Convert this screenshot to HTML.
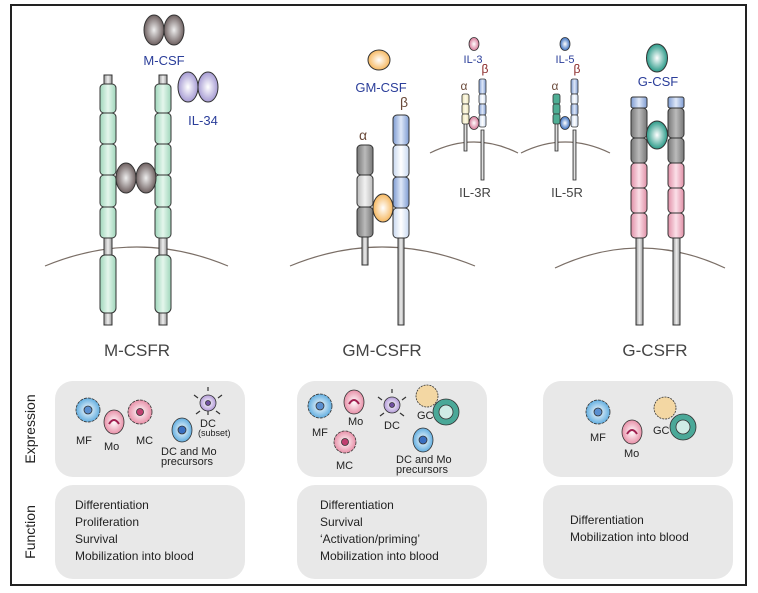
<!DOCTYPE html>
<html><head><meta charset="utf-8"><style>
body{margin:0;background:#fff}
svg{display:block}
text{font-family:"Liberation Sans",sans-serif}
</style></head><body>
<svg width="758" height="593" viewBox="0 0 758 593">
<defs>
<linearGradient id="gr" x1="0" x2="1"><stop offset="0" stop-color="#9fd6bb"/><stop offset=".5" stop-color="#e4f6ec"/><stop offset="1" stop-color="#9fd6bb"/></linearGradient>
<linearGradient id="gy" x1="0" x2="1"><stop offset="0" stop-color="#777"/><stop offset=".5" stop-color="#bbb"/><stop offset="1" stop-color="#777"/></linearGradient>
<linearGradient id="lg" x1="0" x2="1"><stop offset="0" stop-color="#bbb"/><stop offset=".5" stop-color="#f2f2f2"/><stop offset="1" stop-color="#bbb"/></linearGradient>
<linearGradient id="bl" x1="0" x2="1"><stop offset="0" stop-color="#7d9bd2"/><stop offset=".5" stop-color="#dfe8f8"/><stop offset="1" stop-color="#7d9bd2"/></linearGradient>
<linearGradient id="wb" x1="0" x2="1"><stop offset="0" stop-color="#c8d8f0"/><stop offset=".5" stop-color="#fff"/><stop offset="1" stop-color="#c8d8f0"/></linearGradient>
<linearGradient id="pk" x1="0" x2="1"><stop offset="0" stop-color="#e08ea6"/><stop offset=".5" stop-color="#fbe0e8"/><stop offset="1" stop-color="#e08ea6"/></linearGradient>
<linearGradient id="yl" x1="0" x2="1"><stop offset="0" stop-color="#e8e3b8"/><stop offset=".5" stop-color="#fffbe8"/><stop offset="1" stop-color="#e8e3b8"/></linearGradient>
<linearGradient id="st" x1="0" x2="1"><stop offset="0" stop-color="#999"/><stop offset=".5" stop-color="#eee"/><stop offset="1" stop-color="#999"/></linearGradient>
<radialGradient id="rb"><stop offset="0" stop-color="#eee"/><stop offset="1" stop-color="#6e6060"/></radialGradient>
<radialGradient id="rv"><stop offset="0" stop-color="#fff"/><stop offset="1" stop-color="#a69bd3"/></radialGradient>
<radialGradient id="ro"><stop offset="0" stop-color="#fff"/><stop offset="1" stop-color="#f6b860"/></radialGradient>
<radialGradient id="rt"><stop offset="0" stop-color="#fff"/><stop offset="1" stop-color="#2a9a88"/></radialGradient>
<radialGradient id="rp"><stop offset="0" stop-color="#fff"/><stop offset="1" stop-color="#d67898"/></radialGradient>
<radialGradient id="rB"><stop offset="0" stop-color="#fff"/><stop offset="1" stop-color="#3a6fc0"/></radialGradient>
<radialGradient id="cb"><stop offset="0" stop-color="#fff"/><stop offset="1" stop-color="#62aee0"/></radialGradient>
<radialGradient id="cp"><stop offset="0" stop-color="#fff"/><stop offset="1" stop-color="#e890a8"/></radialGradient>
<radialGradient id="cv"><stop offset="0" stop-color="#fff"/><stop offset="1" stop-color="#b39bd8"/></radialGradient>
</defs>
<rect x="11" y="5" width="735" height="580" fill="none" stroke="#222" stroke-width="2"/>

<!-- membranes -->
<g fill="none" stroke="#7a6e66" stroke-width="1.2">
<path d="M45 266 Q137 228 228 266"/>
<path d="M290 266 Q382 228 475 266"/>
<path d="M430 153 Q474 131 518 153"/>
<path d="M521 153 Q565 131 610 153"/>
<path d="M555 268 Q640 228 725 268"/>
</g>

<!-- M-CSFR -->
<g stroke="#333" stroke-width="1">
<rect x="104" y="75" width="8" height="250" fill="url(#st)"/>
<rect x="159" y="75" width="8" height="250" fill="url(#st)"/>
<g fill="url(#gr)">
<rect x="100" y="84" width="16" height="29" rx="4"/><rect x="100" y="113" width="16" height="31" rx="4"/><rect x="100" y="144" width="16" height="31" rx="4"/><rect x="100" y="175" width="16" height="32" rx="4"/><rect x="100" y="207" width="16" height="31" rx="4"/><rect x="100" y="255" width="16" height="58" rx="5"/>
<rect x="155" y="84" width="16" height="29" rx="4"/><rect x="155" y="113" width="16" height="31" rx="4"/><rect x="155" y="144" width="16" height="31" rx="4"/><rect x="155" y="175" width="16" height="32" rx="4"/><rect x="155" y="207" width="16" height="31" rx="4"/><rect x="155" y="255" width="16" height="58" rx="5"/>
</g>
<g fill="url(#rb)"><ellipse cx="154" cy="30" rx="10" ry="15"/><ellipse cx="174" cy="30" rx="10" ry="15"/><ellipse cx="126" cy="178" rx="10" ry="15"/><ellipse cx="146" cy="178" rx="10" ry="15"/></g>
<g fill="url(#rv)"><ellipse cx="188" cy="87" rx="10" ry="15"/><ellipse cx="208" cy="87" rx="10" ry="15"/></g>
</g>
<text x="164" y="65" font-size="13" fill="#2b3e9a" text-anchor="middle">M-CSF</text>
<text x="203" y="125" font-size="13" fill="#2b3e9a" text-anchor="middle">IL-34</text>
<text x="137" y="356" font-size="17" fill="#444" text-anchor="middle">M-CSFR</text>

<!-- GM-CSFR -->
<g stroke="#333" stroke-width="1">
<rect x="362" y="230" width="6" height="35" fill="url(#st)"/>
<rect x="398" y="230" width="6" height="95" fill="url(#st)"/>
<rect x="357" y="145" width="16" height="30" rx="4" fill="url(#gy)"/>
<rect x="357" y="175" width="16" height="32" rx="4" fill="url(#lg)"/>
<rect x="357" y="207" width="16" height="30" rx="4" fill="url(#gy)"/>
<rect x="393" y="115" width="16" height="30" rx="4" fill="url(#bl)"/>
<rect x="393" y="145" width="16" height="32" rx="4" fill="url(#wb)"/>
<rect x="393" y="177" width="16" height="31" rx="4" fill="url(#bl)"/>
<rect x="393" y="208" width="16" height="30" rx="4" fill="url(#wb)"/>
<ellipse cx="379" cy="60" rx="11" ry="10" fill="url(#ro)"/>
<ellipse cx="383" cy="208" rx="10" ry="14" fill="url(#ro)"/>
</g>
<text x="381" y="92" font-size="13" fill="#2b3e9a" text-anchor="middle">GM-CSF</text>
<text x="404" y="107" font-size="14" fill="#6a4a3a" text-anchor="middle">β</text>
<text x="363" y="140" font-size="14" fill="#6a4a3a" text-anchor="middle">α</text>
<text x="382" y="356" font-size="17" fill="#444" text-anchor="middle">GM-CSFR</text>

<!-- IL-3R -->
<g stroke="#333" stroke-width="0.8">
<rect x="464" y="120" width="3" height="31" fill="url(#st)"/>
<rect x="481" y="130" width="3" height="50" fill="url(#st)"/>
<g fill="url(#yl)"><rect x="462" y="94" width="7" height="10" rx="2"/><rect x="462" y="104" width="7" height="10" rx="2"/><rect x="462" y="114" width="7" height="10" rx="2"/></g>
<rect x="479" y="79" width="7" height="15" rx="2" fill="url(#bl)"/><rect x="479" y="94" width="7" height="10" rx="2" fill="url(#wb)"/><rect x="479" y="104" width="7" height="11" rx="2" fill="url(#bl)"/><rect x="479" y="115" width="7" height="12" rx="2" fill="url(#wb)"/>
<ellipse cx="474" cy="44" rx="5" ry="6.5" fill="url(#rp)"/>
<ellipse cx="474" cy="123" rx="5" ry="6.5" fill="url(#rp)"/>
</g>
<text x="473" y="63" font-size="11" fill="#2b3e9a" text-anchor="middle">IL-3</text>
<text x="485" y="73" font-size="12" fill="#8b2a2a" text-anchor="middle">β</text>
<text x="464" y="90" font-size="12" fill="#6a4a3a" text-anchor="middle">α</text>
<text x="475" y="197" font-size="13" fill="#444" text-anchor="middle">IL-3R</text>

<!-- IL-5R -->
<g stroke="#333" stroke-width="0.8">
<rect x="555" y="120" width="3" height="31" fill="url(#st)"/>
<rect x="573" y="130" width="3" height="50" fill="url(#st)"/>
<g fill="url(#gr)"><rect x="553" y="94" width="7" height="10" rx="2" fill="#4fae94"/><rect x="553" y="104" width="7" height="10" rx="2" fill="#4fae94"/><rect x="553" y="114" width="7" height="10" rx="2" fill="#4fae94"/></g>
<rect x="571" y="79" width="7" height="15" rx="2" fill="url(#bl)"/><rect x="571" y="94" width="7" height="10" rx="2" fill="url(#wb)"/><rect x="571" y="104" width="7" height="11" rx="2" fill="url(#bl)"/><rect x="571" y="115" width="7" height="12" rx="2" fill="url(#wb)"/>
<ellipse cx="565" cy="44" rx="5" ry="6.5" fill="url(#rB)"/>
<ellipse cx="565" cy="123" rx="5" ry="6.5" fill="url(#rB)"/>
</g>
<text x="565" y="63" font-size="11" fill="#2b3e9a" text-anchor="middle">IL-5</text>
<text x="577" y="73" font-size="12" fill="#8b2a2a" text-anchor="middle">β</text>
<text x="555" y="90" font-size="12" fill="#6a4a3a" text-anchor="middle">α</text>
<text x="567" y="197" font-size="13" fill="#444" text-anchor="middle">IL-5R</text>

<!-- G-CSFR -->
<g stroke="#333" stroke-width="1">
<rect x="636" y="235" width="7" height="90" fill="url(#st)"/>
<rect x="673" y="235" width="7" height="90" fill="url(#st)"/>
<g>
<rect x="631" y="97" width="16" height="11" rx="2" fill="url(#bl)"/><rect x="631" y="108" width="16" height="30" rx="4" fill="url(#gy)"/><rect x="631" y="138" width="16" height="25" rx="4" fill="url(#gy)"/>
<rect x="631" y="163" width="16" height="25" rx="4" fill="url(#pk)"/><rect x="631" y="188" width="16" height="25" rx="4" fill="url(#pk)"/><rect x="631" y="213" width="16" height="25" rx="4" fill="url(#pk)"/>
<rect x="668" y="97" width="16" height="11" rx="2" fill="url(#bl)"/><rect x="668" y="108" width="16" height="30" rx="4" fill="url(#gy)"/><rect x="668" y="138" width="16" height="25" rx="4" fill="url(#gy)"/>
<rect x="668" y="163" width="16" height="25" rx="4" fill="url(#pk)"/><rect x="668" y="188" width="16" height="25" rx="4" fill="url(#pk)"/><rect x="668" y="213" width="16" height="25" rx="4" fill="url(#pk)"/>
</g>
<ellipse cx="657" cy="58" rx="10.5" ry="14" fill="url(#rt)"/>
<ellipse cx="657" cy="135" rx="10.5" ry="14" fill="url(#rt)"/>
</g>
<text x="658" y="86" font-size="13" fill="#2b3e9a" text-anchor="middle">G-CSF</text>
<text x="655" y="356" font-size="17" fill="#444" text-anchor="middle">G-CSFR</text>

<!-- boxes -->
<g fill="#e8e8e8">
<rect x="55" y="381" width="190" height="96" rx="18"/>
<rect x="297" y="381" width="190" height="96" rx="18"/>
<rect x="543" y="381" width="190" height="96" rx="18"/>
<rect x="55" y="485" width="190" height="94" rx="18"/>
<rect x="297" y="485" width="190" height="94" rx="18"/>
<rect x="543" y="485" width="190" height="94" rx="18"/>
</g>
<text transform="translate(35,429) rotate(-90)" font-size="14" fill="#222" text-anchor="middle">Expression</text>
<text transform="translate(35,532) rotate(-90)" font-size="14" fill="#222" text-anchor="middle">Function</text>

<!-- cells -->
<g stroke="#333" stroke-width="0.8">
<!-- box1 -->
<circle cx="88" cy="410" r="12" fill="url(#cb)" stroke-dasharray="3 1"/><circle cx="88" cy="410" r="4" fill="#5a8fd0"/>
<ellipse cx="114" cy="422" rx="10" ry="12" fill="url(#cp)"/><path d="M109 424 q5-8 10 0" fill="none" stroke="#a02050" stroke-width="2"/>
<circle cx="140" cy="412" r="12" fill="url(#cp)" stroke-dasharray="3 1"/><circle cx="140" cy="412" r="3.5" fill="#c04070"/>
<ellipse cx="182" cy="430" rx="10" ry="12" fill="url(#cb)"/><circle cx="182" cy="430" r="4" fill="#3a6fc0"/>
<circle cx="208" cy="403" r="8" fill="url(#cv)"/><circle cx="208" cy="403" r="2.5" fill="#7050a0"/>
<path d="M208 391v-4M218 398l4-3M198 398l-4-3M216 411l4 3M200 411l-4 3M208 411v4" stroke-width="1.2"/>
<!-- box2 -->
<circle cx="320" cy="406" r="12" fill="url(#cb)" stroke-dasharray="3 1"/><circle cx="320" cy="406" r="4" fill="#5a8fd0"/>
<ellipse cx="354" cy="402" rx="10" ry="12" fill="url(#cp)"/><path d="M349 404 q5-8 10 0" fill="none" stroke="#a02050" stroke-width="2"/>
<circle cx="392" cy="405" r="8" fill="url(#cv)"/><circle cx="392" cy="405" r="2.5" fill="#7050a0"/>
<path d="M392 393v-4M402 400l4-3M382 400l-4-3M400 413l4 3M384 413l-4 3" stroke-width="1.2"/>
<circle cx="427" cy="396" r="11" fill="#f3d7a3" stroke-dasharray="2 1"/>
<circle cx="446" cy="412" r="13" fill="#4aa898"/><circle cx="446" cy="412" r="7" fill="#cfece6"/>
<circle cx="345" cy="442" r="11" fill="url(#cp)" stroke-dasharray="3 1"/><circle cx="345" cy="442" r="3.5" fill="#c04070"/>
<ellipse cx="423" cy="440" rx="10" ry="12" fill="url(#cb)"/><circle cx="423" cy="440" r="4" fill="#3a6fc0"/>
<!-- box3 -->
<circle cx="598" cy="412" r="12" fill="url(#cb)" stroke-dasharray="3 1"/><circle cx="598" cy="412" r="4" fill="#5a8fd0"/>
<ellipse cx="632" cy="432" rx="10" ry="12" fill="url(#cp)"/><path d="M627 434 q5-8 10 0" fill="none" stroke="#a02050" stroke-width="2"/>
<circle cx="665" cy="408" r="11" fill="#f3d7a3" stroke-dasharray="2 1"/>
<circle cx="683" cy="427" r="13" fill="#4aa898"/><circle cx="683" cy="427" r="7" fill="#cfece6"/>
</g>
<g font-size="11" fill="#222" font-family="Liberation Sans">
<text x="76" y="444">MF</text><text x="104" y="450">Mo</text><text x="136" y="444">MC</text>
<text x="161" y="455">DC and Mo</text><text x="161" y="465">precursors</text>
<text x="200" y="427">DC</text><text x="198" y="436" font-size="9">(subset)</text>
<text x="312" y="436">MF</text><text x="348" y="425">Mo</text><text x="384" y="429">DC</text><text x="417" y="419">GC</text>
<text x="336" y="469">MC</text><text x="396" y="463">DC and Mo</text><text x="396" y="473">precursors</text>
<text x="590" y="441">MF</text><text x="624" y="457">Mo</text><text x="653" y="434">GC</text>
</g>
<g font-size="12" fill="#222">
<text x="75" y="509">Differentiation</text><text x="75" y="526">Proliferation</text><text x="75" y="543">Survival</text><text x="75" y="560">Mobilization into blood</text>
<text x="320" y="509">Differentiation</text><text x="320" y="526">Survival</text><text x="320" y="543">‘Activation/priming’</text><text x="320" y="560">Mobilization into blood</text>
<text x="570" y="524">Differentiation</text><text x="570" y="541">Mobilization into blood</text>
</g>
</svg>
</body></html>
